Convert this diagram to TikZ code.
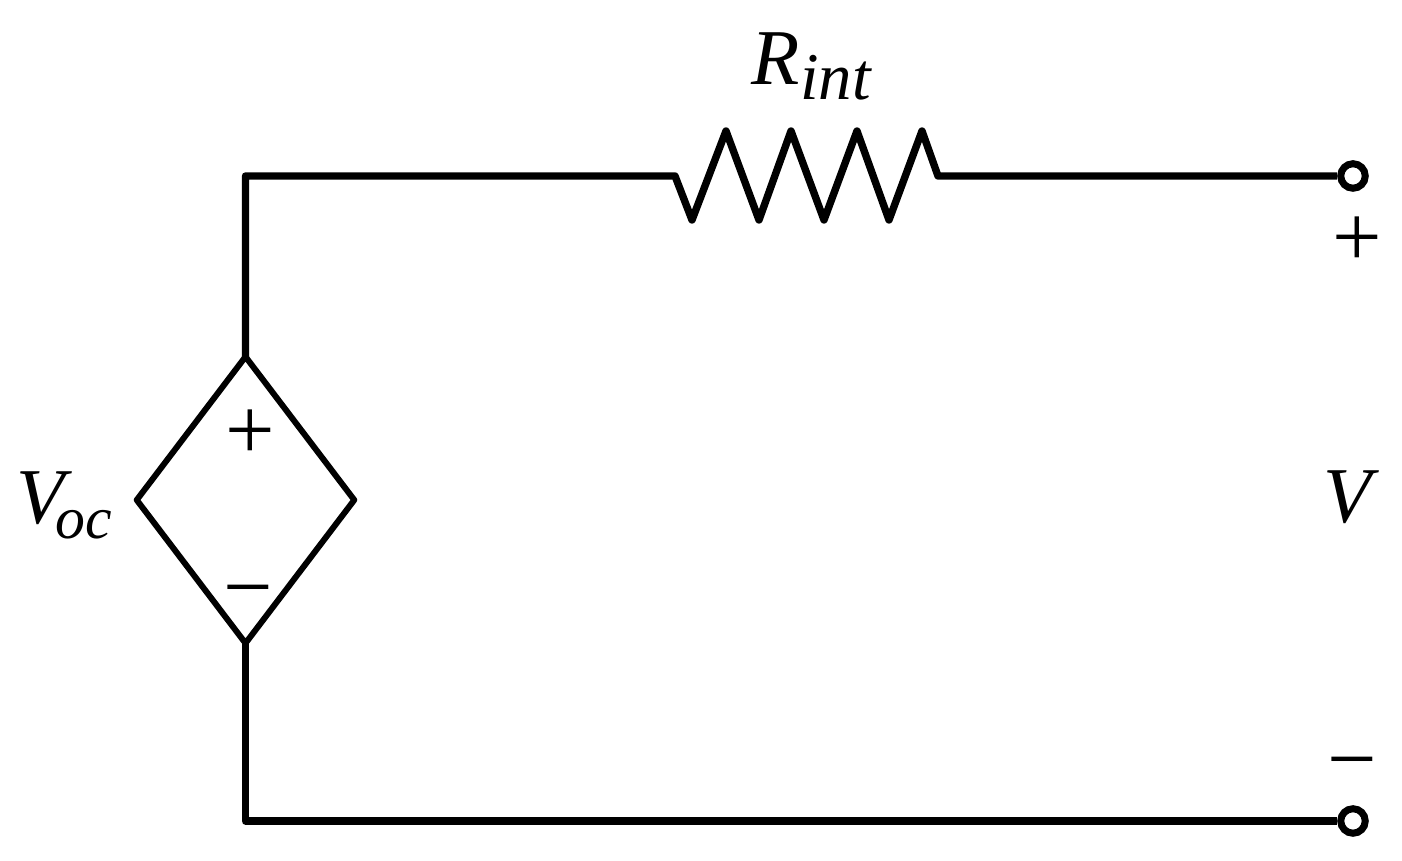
\documentclass[tikz,border=0pt]{standalone}
\usepackage{fontspec}
\setmainfont{Liberation Serif}
\usetikzlibrary{shapes.geometric}
\newcommand{\sublab}[4][0pt]{\textit{#2}\kern#1\raisebox{-0.19em}{\fontsize{#4}{#4}\selectfont\textit{#3}}}
\tikzset{
	wire/.style={line width=2.1pt,line join=round},
	terminal/.style={circle,draw,line width=2pt,fill=white,minimum size=0.245cm,inner sep=0pt},
	source/.style={diamond,draw,line width=1.7pt,line join=round,inner sep=0pt,minimum width=2.2cm,minimum height=2.89cm},
	lab/.style={inner sep=0pt,font=\fontsize{22.5}{24}\selectfont},
	sign/.style={inner sep=0pt,font=\fontsize{25}{26}\selectfont}
}
\begin{document}
\begin{tikzpicture}
		\useasboundingbox (0,0) rectangle (14.02,8.61);
		\node[source] (src) at (2.455,3.61) {};
		\node[terminal] (top) at (13.53,6.85) {};
		\node[terminal] (bot) at (13.53,0.40) {};
		\coordinate (corner1) at (src.north |- top);
		\coordinate (corner2) at (src.south |- bot);
		\coordinate (resl) at (6.75,6.85);
		\coordinate (resr) at (9.38,6.85);
		\draw[wire,shorten <=-1.5pt] (src.north) -- (corner1) -- (resl) -- (6.92,6.41)
			\foreach \p/\q in {7.26/7.59,7.91/8.24,8.57/8.89} {-- (\p,7.30) -- (\q,6.41)} -- (9.22,7.30) -- (resr) -- (top);
		\draw[wire,shorten <=-1.5pt] (src.south) -- (corner2) -- (bot);
		\node[lab] (rint) at (8.12,7.95) {\sublab{R}{int}{19}};
		\node[lab] (voc) at (0.645,3.56) {\sublab[-4.8pt]{V}{oc}{17}};
		\node[lab] (v) at (13.51,3.64) {\textit{V}};
		\node[sign] (srcp) at (2.50,4.26) {+};
		\node[sign] (srcm) at (2.48,2.60) {−};
		\node[sign] (topp) at (13.57,6.19) {+};
		\node[sign] (botm) at (13.52,0.88) {−};
	\end{tikzpicture}
\end{document}
